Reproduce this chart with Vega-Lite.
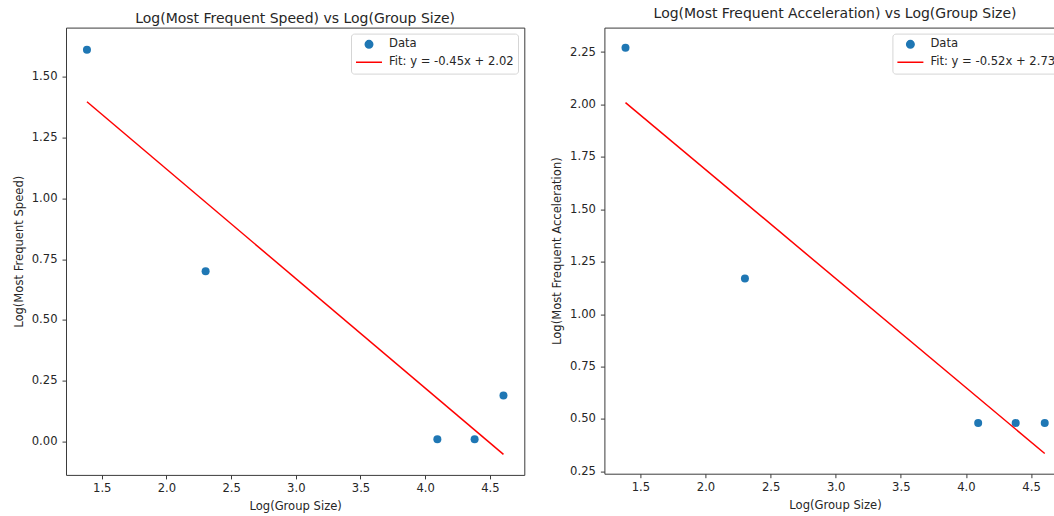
{
  "$schema": "https://vega.github.io/schema/vega-lite/v6.json",
  "background": "white",
  "padding": {"left": 12, "top": 6.6, "right": 0, "bottom": 0},
  "bounds": "flush",
  "spacing": 79.4,
  "datasets": {
    "speed_points": [
      {"log_group_size": 1.386, "log_speed": 1.61},
      {"log_group_size": 2.303, "log_speed": 0.70},
      {"log_group_size": 4.094, "log_speed": 0.01},
      {"log_group_size": 4.382, "log_speed": 0.01},
      {"log_group_size": 4.605, "log_speed": 0.19}
    ],
    "speed_fit": [
      {"log_group_size": 1.386, "log_speed": 1.396},
      {"log_group_size": 4.605, "log_speed": -0.052}
    ],
    "accel_points": [
      {"log_group_size": 1.386, "log_accel": 2.27},
      {"log_group_size": 2.303, "log_accel": 1.17},
      {"log_group_size": 4.094, "log_accel": 0.48},
      {"log_group_size": 4.382, "log_accel": 0.48},
      {"log_group_size": 4.605, "log_accel": 0.48}
    ],
    "accel_fit": [
      {"log_group_size": 1.386, "log_accel": 2.009},
      {"log_group_size": 4.605, "log_accel": 0.335}
    ]
  },
  "config": {
    "font": "DejaVu Sans",
    "view": {"stroke": "#3a3a3a", "strokeWidth": 1},
    "title": {"font": "DejaVu Sans", "fontSize": 14, "fontWeight": "normal", "color": "#262626", "anchor": "middle", "baseline": "alphabetic"},
    "axis": {
      "domain": false, "grid": false,
      "labelFont": "DejaVu Sans", "labelFontSize": 11.6, "labelColor": "#262626",
      "titleFont": "DejaVu Sans", "titleFontSize": 11.6, "titleFontWeight": "normal", "titleColor": "#262626",
      "tickColor": "#3a3a3a", "tickSize": 4
    },
    "axisX": {"labelPadding": 4, "titlePadding": 6, "labelFlush": false},
    "axisY": {"labelPadding": 5, "titlePadding": 7},
    "legend": {
      "title": null, "orient": "top-right", "offset": 6, "padding": 4,
      "symbolSize": 100, "labelOffset": 6, "rowPadding": 3.9, "clipHeight": 13.5,
      "labelFont": "DejaVu Sans", "labelFontSize": 11.6, "labelColor": "#262626",
      "fillColor": "white", "strokeColor": "#d5d5d5", "cornerRadius": 3
    }
  },
  "resolve": {"scale": {"color": "independent"}, "legend": {"color": "independent"}},
  "hconcat": [
    {
      "width": 458.3,
      "height": 447.3,
      "title": {"text": "Log(Most Frequent Speed) vs Log(Group Size)", "offset": 1.9},
      "layer": [
        {
          "data": {"name": "speed_points"},
          "mark": {"type": "point", "filled": true, "size": 64, "opacity": 1},
          "encoding": {
            "x": {"field": "log_group_size", "type": "quantitative", "title": "Log(Group Size)",
                  "scale": {"domain": [1.224, 4.766], "nice": false, "zero": false},
                  "axis": {"values": [1.5, 2.0, 2.5, 3.0, 3.5, 4.0, 4.5], "format": ".1f"}},
            "y": {"field": "log_speed", "type": "quantitative", "title": "Log(Most Frequent Speed)",
                  "scale": {"domain": [-0.136, 1.7005], "nice": false, "zero": false},
                  "axis": {"values": [0, 0.25, 0.5, 0.75, 1.0, 1.25, 1.5], "format": ".2f"}},
            "color": {
              "datum": "Data", "type": "nominal",
              "scale": {"domain": ["Data", "Fit: y = -0.45x + 2.02"], "range": ["#1f77b4", "#ff0000"]},
              "legend": {
                "encode": {"symbols": {"update": {
                  "shape": {"signal": "datum.value === 'Data' ? 'circle' : 'stroke'"},
                  "size": {"signal": "datum.value === 'Data' ? 56 : 676"},
                  "fill": {"signal": "datum.value === 'Data' ? '#1f77b4' : 'transparent'"},
                  "stroke": {"signal": "datum.value === 'Data' ? 'transparent' : '#ff0000'"},
                  "strokeWidth": {"value": 1.5},
                  "opacity": {"value": 1}
                }}}
              }
            }
          }
        },
        {
          "data": {"name": "speed_fit"},
          "mark": {"type": "line", "strokeWidth": 1.5},
          "encoding": {
            "x": {"field": "log_group_size", "type": "quantitative"},
            "y": {"field": "log_speed", "type": "quantitative"},
            "color": {
              "datum": "Fit: y = -0.45x + 2.02", "type": "nominal",
              "legend": {
                "encode": {"symbols": {"update": {
                  "shape": {"signal": "datum.value === 'Data' ? 'circle' : 'stroke'"},
                  "size": {"signal": "datum.value === 'Data' ? 56 : 676"},
                  "fill": {"signal": "datum.value === 'Data' ? '#1f77b4' : 'transparent'"},
                  "stroke": {"signal": "datum.value === 'Data' ? 'transparent' : '#ff0000'"},
                  "strokeWidth": {"value": 1.5},
                  "opacity": {"value": 1}
                }}}
              }
            }
          }
        }
      ]
    },
    {
      "width": 461.3,
      "height": 446.1,
      "title": {"text": "Log(Most Frequent Acceleration) vs Log(Group Size)", "offset": 6.2},
      "layer": [
        {
          "data": {"name": "accel_points"},
          "mark": {"type": "point", "filled": true, "size": 64, "opacity": 1},
          "encoding": {
            "x": {"field": "log_group_size", "type": "quantitative", "title": "Log(Group Size)",
                  "scale": {"domain": [1.224, 4.766], "nice": false, "zero": false},
                  "axis": {"values": [1.5, 2.0, 2.5, 3.0, 3.5, 4.0, 4.5], "format": ".1f"}},
            "y": {"field": "log_accel", "type": "quantitative", "title": "Log(Most Frequent Acceleration)",
                  "scale": {"domain": [0.2387, 2.3667], "nice": false, "zero": false},
                  "axis": {"values": [0.25, 0.5, 0.75, 1.0, 1.25, 1.5, 1.75, 2.0, 2.25], "format": ".2f"}},
            "color": {
              "datum": "Data", "type": "nominal",
              "scale": {"domain": ["Data", "Fit: y = -0.52x + 2.73"], "range": ["#1f77b4", "#ff0000"]},
              "legend": {
                "encode": {"symbols": {"update": {
                  "shape": {"signal": "datum.value === 'Data' ? 'circle' : 'stroke'"},
                  "size": {"signal": "datum.value === 'Data' ? 56 : 676"},
                  "fill": {"signal": "datum.value === 'Data' ? '#1f77b4' : 'transparent'"},
                  "stroke": {"signal": "datum.value === 'Data' ? 'transparent' : '#ff0000'"},
                  "strokeWidth": {"value": 1.5},
                  "opacity": {"value": 1}
                }}}
              }
            }
          }
        },
        {
          "data": {"name": "accel_fit"},
          "mark": {"type": "line", "strokeWidth": 1.5},
          "encoding": {
            "x": {"field": "log_group_size", "type": "quantitative"},
            "y": {"field": "log_accel", "type": "quantitative"},
            "color": {
              "datum": "Fit: y = -0.52x + 2.73", "type": "nominal",
              "legend": {
                "encode": {"symbols": {"update": {
                  "shape": {"signal": "datum.value === 'Data' ? 'circle' : 'stroke'"},
                  "size": {"signal": "datum.value === 'Data' ? 56 : 676"},
                  "fill": {"signal": "datum.value === 'Data' ? '#1f77b4' : 'transparent'"},
                  "stroke": {"signal": "datum.value === 'Data' ? 'transparent' : '#ff0000'"},
                  "strokeWidth": {"value": 1.5},
                  "opacity": {"value": 1}
                }}}
              }
            }
          }
        }
      ]
    }
  ]
}
